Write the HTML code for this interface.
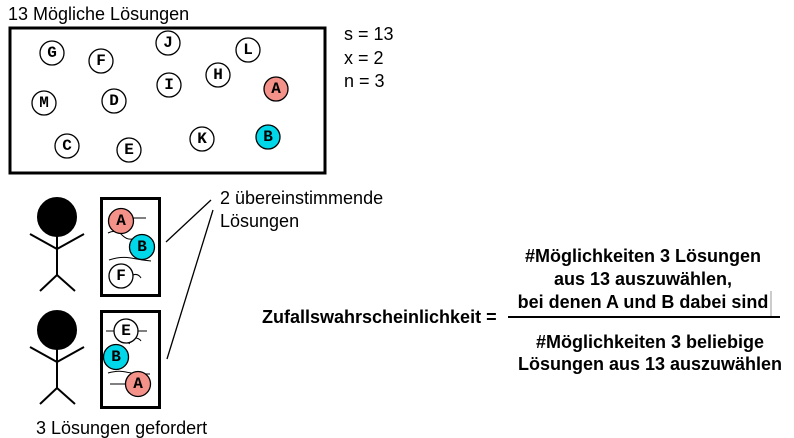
<!DOCTYPE html>
<html><head><meta charset="utf-8"><style>
body{margin:0;background:#fff;width:794px;height:438px;overflow:hidden}
svg{display:block}
.t{font-family:"Liberation Sans",sans-serif;font-size:18px;fill:#000}
.b{font-family:"Liberation Sans",sans-serif;font-size:18px;font-weight:bold;fill:#000}
.c{font-family:"Liberation Mono",monospace;font-size:16px;font-weight:bold;fill:#000;text-anchor:middle;dominant-baseline:central}
</style></head><body>
<svg width="794" height="438" xmlns="http://www.w3.org/2000/svg">
<text class="t" x="8" y="20">13 Mögliche Lösungen</text>
<rect x="10" y="28" width="315" height="145" fill="none" stroke="#000" stroke-width="3"/>
<g stroke="#000" stroke-width="1.3" fill="#fff">
<circle cx="52" cy="53" r="12"/><circle cx="101" cy="61" r="12"/><circle cx="168" cy="43" r="12"/>
<circle cx="248" cy="50" r="12"/><circle cx="169" cy="85" r="12"/><circle cx="218" cy="75" r="12"/>
<circle cx="276" cy="89" r="12" fill="#f4928a"/><circle cx="44" cy="103" r="12"/><circle cx="114" cy="101" r="12"/>
<circle cx="67" cy="146" r="12"/><circle cx="129" cy="150" r="12"/><circle cx="202" cy="139" r="12"/>
<circle cx="268" cy="137" r="12" fill="#00d8ea"/>
</g>
<text class="c" x="52" y="53">G</text><text class="c" x="101" y="61">F</text><text class="c" x="168" y="43">J</text>
<text class="c" x="248" y="50">L</text><text class="c" x="169" y="85">I</text><text class="c" x="218" y="75">H</text>
<text class="c" x="276" y="89">A</text><text class="c" x="44" y="103">M</text><text class="c" x="114" y="101">D</text>
<text class="c" x="67" y="146">C</text><text class="c" x="129" y="150">E</text><text class="c" x="202" y="139">K</text>
<text class="c" x="268" y="137">B</text>
<text class="t" x="344" y="40">s = 13</text>
<text class="t" x="344" y="64">x = 2</text>
<text class="t" x="344" y="87">n = 3</text>

<g stroke="#000" stroke-width="2" fill="none">
<circle cx="57" cy="217" r="19" fill="#000"/>
<line x1="57" y1="236" x2="57" y2="275"/><line x1="30" y1="234" x2="57" y2="249"/><line x1="84" y1="234" x2="57" y2="249"/>
<line x1="57" y1="275" x2="40" y2="291"/><line x1="57" y1="275" x2="75" y2="291"/>
<circle cx="57" cy="330" r="19" fill="#000"/>
<line x1="57" y1="349" x2="57" y2="388"/><line x1="30" y1="347" x2="57" y2="362"/><line x1="84" y1="347" x2="57" y2="362"/>
<line x1="57" y1="388" x2="40" y2="404"/><line x1="57" y1="388" x2="75" y2="404"/>
</g>
<rect x="101.5" y="198.5" width="58" height="97" fill="none" stroke="#000" stroke-width="3"/>
<rect x="101.5" y="311.5" width="58" height="96" fill="none" stroke="#000" stroke-width="3"/>
<g stroke="#000" stroke-width="1" fill="none">
<path d="M133 218 h13"/><path d="M108 233 q8 -4 14 2 q5 5 10 4"/><path d="M109 260 q12 -4 22 -2 q10 2 20 3"/><path d="M133 275 q5 -2 8 3"/>
<path d="M106 331 h8"/><path d="M138 331 h9"/><path d="M129 344 q3 -6 6 -6 q4 0 6 3"/><path d="M108 373 q10 -3 18 -1 q8 2 24 2"/><path d="M110 384 h15"/>
</g>
<g stroke="#000" stroke-width="1.3">
<circle cx="121" cy="221" r="12.5" fill="#f4928a"/>
<circle cx="142" cy="247" r="12.5" fill="#00d8ea"/>
<circle cx="121" cy="276" r="12" fill="#fff"/>
<circle cx="126" cy="331" r="12" fill="#fff"/>
<circle cx="116" cy="357" r="12.5" fill="#00d8ea"/>
<circle cx="138" cy="384" r="12.5" fill="#f4928a"/>
</g>
<text class="c" x="121" y="221">A</text><text class="c" x="142" y="247">B</text><text class="c" x="121" y="276">F</text>
<text class="c" x="126" y="331">E</text><text class="c" x="116" y="357">B</text><text class="c" x="138" y="384">A</text>
<line x1="166" y1="242" x2="211" y2="200" stroke="#000" stroke-width="1.3"/>
<line x1="167" y1="359" x2="213" y2="210" stroke="#000" stroke-width="1.3"/>
<text class="t" x="220" y="204">2 übereinstimmende</text>
<text class="t" x="220" y="227">Lösungen</text>
<text class="t" x="36" y="434">3 Lösungen gefordert</text>

<text class="b" x="262" y="323">Zufallswahrscheinlichkeit =</text>
<text class="b" x="643" y="262" text-anchor="middle">#Möglichkeiten 3 Lösungen</text>
<text class="b" x="643" y="285" text-anchor="middle">aus 13 auszuwählen,</text>
<text class="b" x="643" y="308" text-anchor="middle">bei denen A und B dabei sind</text>
<text class="b" x="650" y="348" text-anchor="middle">#Möglichkeiten 3 beliebige</text>
<text class="b" x="650" y="370" text-anchor="middle">Lösungen aus 13 auszuwählen</text>
<line x1="771" y1="291" x2="771" y2="316" stroke="#999" stroke-width="1"/>
<line x1="508" y1="317" x2="780" y2="317" stroke="#000" stroke-width="2"/>
</svg>
</body></html>
